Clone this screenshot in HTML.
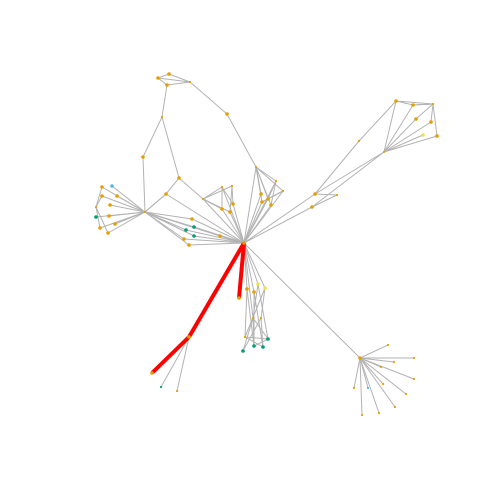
<!DOCTYPE html>
<html><head><meta charset="utf-8"><style>
html,body{margin:0;padding:0;background:#fff;}
svg{display:block;}
</style></head><body>
<svg id="net" width="504" height="504" viewBox="0 0 504 504" xmlns="http://www.w3.org/2000/svg">
<g id="edges"></g>
<g id="red"></g>
<g id="nodes"></g>
</svg>
<script>
const nodeX=[244,158,169,167,190,162,227,256,143,179,145,
102,112,102,117,110,96,96,109,100,115,108,
166,203,222,232,222,230,233,
276,283,261,268,262,271,
192,194,186,194,184,189,220,
315,337,312,359,384,396,413,433,416,431,423,437,
239,189,152,161,177,
247,254,258,265,253,261,245,268,254,263,243,
360,388,414,394,381,414,383,406,368,354,395,379,362];
const nodeY=[243,78,74,85,82,117,114,167,157,178,212,
187,186,196,196,205,207,217,216,228,224,233,
194,199,187,186,209,212,204,
181,191,194,199,202,205,
219,227,230,236,239,245,236,
194,195,207,141,152,101,105,104,119,122,135,136,
298,337,373,387,391,
289,292,284,288,318,318,337,339,346,347,351,
358,345,358,362,367,379,384,394,388,388,407,413,415];
const nodeColor=["o","o","o","o","s","s","o","s","o","o","s",
"o","b","o","o","o","s","g","o","o","o","o",
"o","s","s","s","o","o","o",
"s","s","o","o","o","o",
"o","g","g","g","o","o","o",
"o","s","o","s","s","o","o","s","o","o","y","o",
"o","o","o","gs","os",
"o","o","y","y","s","s","s","g","g","g","g",
"o","os","os","os","os","os","os","os","bs","os","os","os","os"];
const edgeFrom=[1,1,2,3,1,3,5,5,4,6,7,8,9,22,9,23,23,23,23,23,
10,10,10,10,10,10,10,10,10,10,10,16,16,16,16,
10,10,10,10,10,10,10,10,
0,0,0,0,0,0,0,0,0,0,0,0,0,0,0,0,0,0,0,
7,7,7,7,7,7,29,30,29,30,
0,0,42,44,42,45,42,44,46,46,46,46,46,46,49,49,49,49,49,47,48,
55,55,
0,0,0,0,0,59,60,61,62,63,64,63,65,64,63,65,60,61,62,59,66,
0,70,70,70,70,70,70,70,70,70,70,70,70,24,25,26,27];
const edgeTo=[2,4,4,4,3,5,8,9,6,7,29,10,22,10,23,0,24,25,26,27,
11,12,13,14,15,17,18,19,20,21,22,11,13,19,21,
35,36,37,38,39,40,41,0,
35,36,37,38,39,40,41,29,30,31,32,33,34,24,26,27,28,22,7,
31,32,33,34,30,31,32,33,34,33,
42,44,43,43,45,47,46,46,47,48,50,51,52,53,47,48,50,51,53,48,49,
57,58,
59,60,61,62,63,65,67,63,64,67,69,66,66,68,69,68,68,66,65,67,67,
70,71,72,73,74,75,76,77,78,79,80,81,82,28,28,24,25];
const redFrom=[0,0,55];
const redTo=[54,55,56];
const colors={o:"#E69F00",g:"#009E73",b:"#56B4E9",y:"#F0E442",s:"#E69F00",gs:"#009E73",os:"#E69F00",bs:"#56B4E9"};
const NS="http://www.w3.org/2000/svg";
const eg=document.getElementById('edges');
for(let i=0;i<edgeFrom.length;i++){
 const a=edgeFrom[i],b=edgeTo[i];
 const l=document.createElementNS(NS,'line');
 l.setAttribute('x1',nodeX[a]);l.setAttribute('y1',nodeY[a]);
 l.setAttribute('x2',nodeX[b]);l.setAttribute('y2',nodeY[b]);
 l.setAttribute('stroke','#b3b3b3');l.setAttribute('stroke-width','1');
 
 
 eg.appendChild(l);
}
const rg=document.getElementById('red');
for(let i=0;i<redFrom.length;i++){
 const a=redFrom[i],b=redTo[i];
 const l=document.createElementNS(NS,'line');
 l.setAttribute('x1',nodeX[a]);l.setAttribute('y1',nodeY[a]);
 l.setAttribute('x2',nodeX[b]);l.setAttribute('y2',nodeY[b]);
 l.setAttribute('stroke','#ff0000');l.setAttribute('stroke-width','4');
 
 
 rg.appendChild(l);
}
const ng=document.getElementById('nodes');
for(let i=0;i<nodeX.length;i++){
 const c=document.createElementNS(NS,'circle');
 const k=nodeColor[i];
 c.setAttribute('cx',nodeX[i]);c.setAttribute('cy',nodeY[i]);
 c.setAttribute('r',k.length>1||k==='s'?1.1:1.8);
 c.setAttribute('fill',colors[k]);
 
 
 ng.appendChild(c);
}
</script>
</body></html>
